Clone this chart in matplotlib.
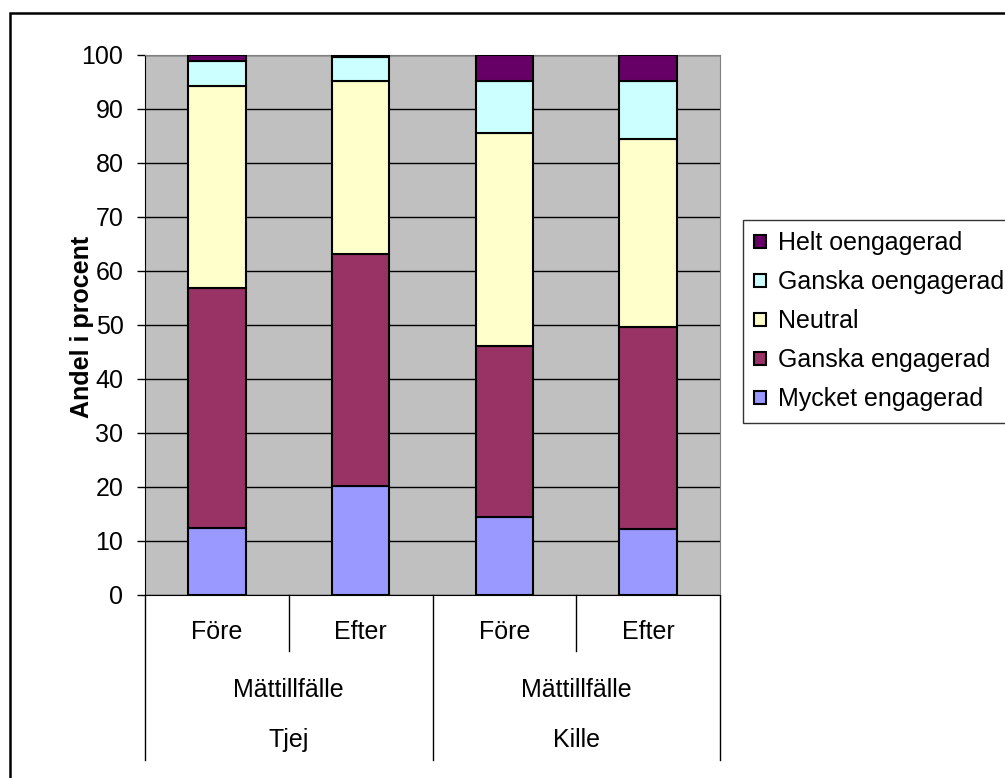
import numpy as np
import matplotlib
matplotlib.use("Agg")
import matplotlib.pyplot as plt
from matplotlib.patches import Rectangle

plt.rcParams['font.family'] = ['Liberation Sans', 'DejaVu Sans']

# data (percent per segment, bottom to top)
bars = ["Före", "Efter", "Före", "Efter"]
groups = ["Tjej", "Kille"]
series = ["Mycket engagerad", "Ganska engagerad", "Neutral", "Ganska oengagerad", "Helt oengagerad"]
mycket = [12.5, 20.2, 14.4, 12.2]
ganska_eng = [44.4, 42.9, 31.8, 37.4]
neutral = [37.4, 32.0, 39.3, 34.8]
ganska_oeng = [4.5, 4.5, 9.6, 10.7]
helt_oeng = [1.2, 0.4, 4.9, 4.9]
colors = ["#9999FF", "#993366", "#FFFFCC", "#CCFFFF", "#660066"]

W, H = 1005, 778
FS = 18
fig = plt.figure(figsize=(W / 100, H / 100), dpi=100)
ax = fig.add_axes([145 / W, 1 - 595 / H, 575 / W, 540 / H])
ax.set_facecolor("#C0C0C0")

x = np.arange(len(bars)) + 0.5
bottom = np.zeros(len(bars))
handles = []
for vals, c, name in zip([mycket, ganska_eng, neutral, ganska_oeng, helt_oeng], colors, series):
    h = ax.bar(x, vals, 0.40, bottom=bottom, color=c, edgecolor="black", linewidth=1.5,
               label=name, zorder=3)
    handles.append(h)
    bottom += np.array(vals)

ax.set_xlim(0, 4)
ax.set_ylim(0, 100)
ax.set_yticks(range(0, 101, 10))
ax.tick_params(axis="y", labelsize=FS, length=6, width=1, direction="out", pad=9.5)
ax.set_xticks([])
ax.grid(axis="y", color="black", linewidth=1, zorder=0)
ax.set_axisbelow(True)
for s in ["top", "right"]:
    ax.spines[s].set_color("#808080")
ax.spines["left"].set_color("black")
ax.spines["bottom"].set_color("black")

# hierarchical category axis
lo = -(651 - 595) / 540
lo2 = -(760 - 595) / 540
tr = ax.get_xaxis_transform()
for xv in [0, 2, 4]:
    ax.plot([xv, xv], [0, lo2], color="black", lw=1, transform=tr, clip_on=False)
for xv in [1, 3]:
    ax.plot([xv, xv], [0, lo], color="black", lw=1, transform=tr, clip_on=False)
for xi, lab in zip(x, bars):
    ax.text(xi, -(632 - 595) / 540, lab, transform=tr, ha="center", va="center", fontsize=FS)
for gi, g in enumerate(groups):
    ax.text(gi * 2 + 1, -(690 - 595) / 540, "Mättillfälle", transform=tr, ha="center", va="center", fontsize=FS)
    ax.text(gi * 2 + 1, -(740 - 595) / 540, g, transform=tr, ha="center", va="center", fontsize=FS)

fig.text(82 / W, 1 - 327 / H, "Andel i procent", rotation=90, ha="center", va="center",
         fontsize=FS, fontweight="bold")

leg = fig.legend(handles[::-1], series[::-1], loc="upper left",
                 bbox_to_anchor=(743 / W, 1 - 220 / H), fontsize=FS, frameon=True,
                 fancybox=False, edgecolor="black", handlelength=0.45, handleheight=0.45,
                 handletextpad=0.5, labelspacing=0.6, borderpad=0.45, borderaxespad=0)
leg.get_frame().set_linewidth(1)

# outer chart border
fig.patches.append(Rectangle((10 / W, -0.1), 1.2, 1.1 - 13 / H, transform=fig.transFigure,
                             fill=False, edgecolor="black", linewidth=1.8))

fig.savefig("out.png", dpi=100)
